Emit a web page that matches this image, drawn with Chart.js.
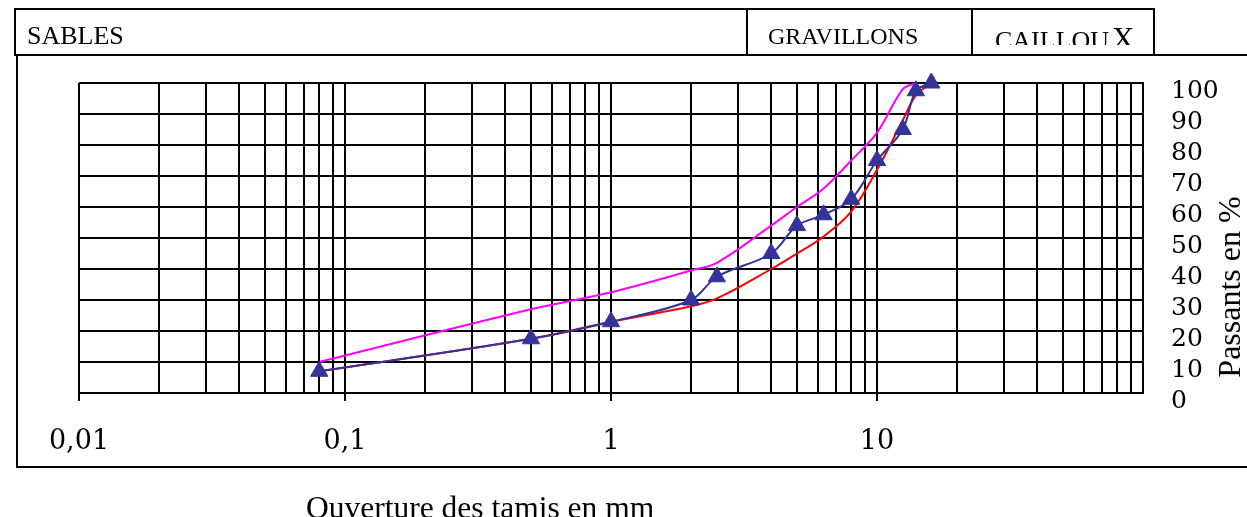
<!DOCTYPE html>
<html>
<head>
<meta charset="utf-8">
<script src="https://cdn.jsdelivr.net/npm/chart.js@4.4.1/dist/chart.umd.min.js"></script>
<style>
  body { margin: 0; background: #fff; width: 1247px; height: 517px; overflow: hidden; position: relative; font-family: "Liberation Serif", serif; }
  #wrap { position: absolute; left: 0; top: 0; width: 1247px; height: 517px; }
  .ln { position: absolute; background: #000; }
  .txt { position: absolute; line-height: 1; white-space: nowrap; color: #000; }
  #header { position: absolute; left: 14px; top: 8px; width: 1141px; height: 48px; border: 2px solid #000; box-sizing: border-box; }
  #cailloux { position: absolute; left: 973px; top: 10px; width: 178px; height: 35px; overflow: hidden; }
  #yTitle { position: absolute; left: 1129px; top: 271px; width: 200px; height: 32px; font-size: 32px; line-height: 1; text-align: center; transform: rotate(-90deg); white-space: nowrap; }
</style>
</head>
<body>
<div id="wrap"><canvas id="grading" width="1247" height="517"></canvas></div>

<!-- header boxes -->
<div id="header"></div>
<div class="ln" style="left:746px;top:8px;width:2px;height:48px"></div>
<div class="ln" style="left:971px;top:8px;width:2px;height:48px"></div>
<div class="txt" style="left:27px;top:23px;font-size:26px">SABLES</div>
<div class="txt" style="left:768px;top:23.5px;font-size:24px">GRAVILLONS</div>
<div id="cailloux">
  <span class="txt" style="left:22px;top:17.5px;font-size:26px">CAILLOU</span>
  <span class="txt" style="left:139px;top:13px;font-size:31px">X</span>
</div>

<!-- frame round the chart -->
<div class="ln" style="left:16px;top:55px;width:2px;height:413px"></div>
<div class="ln" style="left:16px;top:466px;width:1231px;height:2px"></div>
<div class="ln" style="left:1153px;top:54px;width:94px;height:2px"></div>

<div class="txt" style="left:306px;top:492px;font-size:31.5px">Ouverture des tamis en mm</div>
<div id="yTitle">Passants en %</div>

<script>
// sieve openings (mm) and percentages passing
const sieveSizes    = [0.08, 0.5, 1, 2, 2.5, 4, 5, 6.3, 8, 10, 12.5, 14, 16];
const passingSample = [7, 17.5, 23, 30, 37.5, 45, 54, 57.5, 62.5, 75, 85, 97.5, 100];
const lowerLimit    = [7, 17.5, 23, 28, 30.5, 40, 45, 50.5, 58.5, 72, 88, 96, 100];
const upperLimit    = [10, 27, 32.5, 39.5, 42, 54, 60, 66, 75, 84, 98, 100, null];

// axis ticks
const xDecades = [0.01, 0.1, 1, 10, 100];
const xSubdivisions = [1, 2, 3, 4, 5, 6, 7, 8, 9];
const xLabelValues = [0.01, 0.1, 1, 10];
const xLabels = ['0,01', '0,1', '1', '10'];
const yMin = 0, yMax = 100, yStep = 10;

function toPoints(values) {
  return sieveSizes.map((s, i) => ({ x: s, y: values[i] }));
}

function sameValue(a, b) {
  return Math.abs(a - b) < 1e-9 * Math.max(1, Math.abs(b));
}

// gridline positions: every 1..9 x decade, plus the last decade
const xGrid = [];
xDecades.slice(0, -1).forEach(d => {
  xSubdivisions.forEach(k => xGrid.push(Number((k * d).toPrecision(3))));
});
xGrid.push(xDecades[xDecades.length - 1]);

const ctx = document.getElementById('grading').getContext('2d');

new Chart(ctx, {
  type: 'line',
  data: {
    datasets: [
      {
        label: 'Echantillon',
        data: toPoints(passingSample),
        borderColor: '#333399',
        backgroundColor: '#333399',
        borderWidth: 2,
        pointStyle: 'triangle',
        pointRadius: 10,
        pointBorderWidth: 1,
        tension: 0.35,
        clip: false,
        order: 0
      },
      {
        label: 'Limite inférieure',
        data: toPoints(lowerLimit),
        borderColor: '#ff0000',
        borderWidth: 2,
        pointRadius: 0,
        tension: 0.35,
        clip: false,
        order: 1
      },
      {
        label: 'Limite supérieure',
        data: toPoints(upperLimit),
        borderColor: '#ff00ff',
        borderWidth: 2,
        pointRadius: 0,
        tension: 0.35,
        spanGaps: false,
        clip: false,
        order: 2
      }
    ]
  },
  options: {
    responsive: false,
    animation: false,
    layout: { padding: { left: 79, top: 83, right: 0, bottom: 0 } },
    plugins: { legend: { display: false }, tooltip: { enabled: false } },
    scales: {
      x: {
        type: 'logarithmic',
        min: 0.01,
        max: 100,
        afterBuildTicks: (scale) => {
          scale.ticks = xGrid.map(v => ({ value: v, major: xDecades.some(d => sameValue(v, d)) }));
        },
        afterFit: (scale) => { scale.height = 124; },
        grid: {
          color: '#000',
          lineWidth: 2,
          drawTicks: true,
          tickLength: 8,
          tickColor: (c) => (c.tick && xLabelValues.some(d => sameValue(c.tick.value, d)) ? '#000' : 'rgba(0,0,0,0)')
        },
        border: { display: true, color: '#000', width: 2 },
        ticks: {
          autoSkip: false,
          maxRotation: 0,
          minRotation: 0,
          padding: 25,
          color: '#000',
          font: { family: 'DejaVu Serif', size: 27 },
          callback: (value) => {
            const i = xLabelValues.findIndex(v => sameValue(value, v));
            return i >= 0 ? xLabels[i] : '';
          }
        }
      },
      y: {
        position: 'right',
        min: yMin,
        max: yMax,
        afterFit: (scale) => { scale.width = 104; },
        grid: { color: '#000', lineWidth: 2, drawTicks: false },
        border: { display: true, color: '#000', width: 2 },
        ticks: {
          stepSize: yStep,
          autoSkip: false,
          padding: 28,
          labelOffset: 8,
          color: '#000',
          font: { family: 'DejaVu Serif', size: 25 }
        }
      }
    }
  }
});
</script>
</body>
</html>
